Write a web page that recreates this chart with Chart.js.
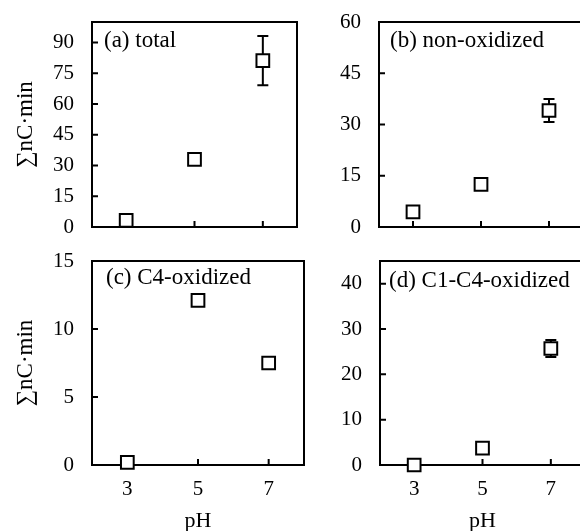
<!DOCTYPE html>
<html><head><meta charset="utf-8">
<script src="https://cdn.jsdelivr.net/npm/chart.js@4/dist/chart.umd.min.js"></script>
<style>
html,body{margin:0;padding:0;background:#fff;width:580px;height:531px;overflow:hidden;position:relative;}
canvas{position:absolute;}
</style></head><body>
<canvas id="ca" width="300" height="250" style="left:0px;top:0px"></canvas>
<canvas id="cb" width="300" height="250" style="left:290px;top:0px"></canvas>
<canvas id="cc" width="310" height="281" style="left:0px;top:250px"></canvas>
<canvas id="cd" width="300" height="281" style="left:290px;top:250px"></canvas>
<script>
// ---- data ----
const phValues = [3, 5, 7];
const xTickValues = [3, 5, 7];
const totalValues = [3.2, 33.0, 81.2];
const totalErrors = [0, 0, 12.0];
const nonOxidizedValues = [4.4, 12.5, 34.1];
const nonOxidizedErrors = [0, 0, 3.4];
const c4OxidizedValues = [0.2, 12.1, 7.5];
const c4OxidizedErrors = [0, 0, 0];
const c1c4OxidizedValues = [0, 3.7, 25.7];
const c1c4OxidizedErrors = [0, 0, 1.9];
const yTicksTotal = [0, 15, 30, 45, 60, 75, 90];
const yTicksNonOx = [0, 15, 30, 45, 60];
const yTicksC4 = [0, 5, 10, 15];
const yTicksC1C4 = [0, 10, 20, 30, 40];
const panelLabels = ['(a) total', '(b) non-oxidized', '(c) C4-oxidized', '(d) C1-C4-oxidized'];
const yTitle = '∑nC·min';
const xTitle = 'pH';

const FAMILY = '"Liberation Serif", "Times New Roman", serif';

function makePanel(id, cfg) {
  const framePlugin = {
    id: 'frame_' + id,
    beforeDatasetsDraw(chart) {
      const ctx = chart.ctx, a = chart.chartArea;
      const x = chart.scales.x, y = chart.scales.y;
      ctx.save();
      ctx.strokeStyle = '#000';
      ctx.lineWidth = 2;
      ctx.strokeRect(a.left, a.top, a.right - a.left, a.bottom - a.top);
      ctx.beginPath();
      x.ticks.forEach(t => { const px = x.getPixelForValue(t.value); ctx.moveTo(px, a.bottom); ctx.lineTo(px, a.bottom - 6); });
      y.ticks.forEach(t => { const py = y.getPixelForValue(t.value); ctx.moveTo(a.left, py); ctx.lineTo(a.left + 6, py); });
      ctx.stroke();
      // error bars
      ctx.beginPath();
      chart.data.datasets[0].data.forEach((p, i) => {
        const e = cfg.errors[i];
        if (!e) return;
        const px = x.getPixelForValue(p.x);
        const top = y.getPixelForValue(p.y + e), bot = y.getPixelForValue(p.y - e);
        ctx.moveTo(px, top); ctx.lineTo(px, bot);
        ctx.moveTo(px - 5.5, top); ctx.lineTo(px + 5.5, top);
        ctx.moveTo(px - 5.5, bot); ctx.lineTo(px + 5.5, bot);
      });
      ctx.stroke();
      ctx.fillStyle = '#000';
      ctx.font = '23px ' + FAMILY;
      ctx.textAlign = 'left';
      ctx.textBaseline = 'middle';
      ctx.fillText(cfg.label, a.left + cfg.dx, a.top + cfg.dy);
      ctx.restore();
    }
  };
  const zeroPad = s => { s.paddingTop = 0; s.paddingBottom = 0; s.paddingLeft = 0; s.paddingRight = 0; };
  return new Chart(document.getElementById(id), {
    type: 'scatter',
    data: {
      datasets: [{
        data: phValues.map((v, i) => ({ x: v, y: cfg.values[i] })),
        pointStyle: 'rect',
        pointRadius: 9,
        pointHoverRadius: 9,
        pointBackgroundColor: '#fff',
        pointBorderColor: '#000',
        pointBorderWidth: 2,
        showLine: false,
        clip: false
      }]
    },
    options: {
      responsive: false,
      animation: false,
      devicePixelRatio: 1,
      events: [],
      layout: { autoPadding: false, padding: { left: 0, right: cfg.padRight, top: cfg.padTop, bottom: 0 } },
      plugins: { legend: { display: false }, tooltip: { enabled: false } },
      scales: {
        x: {
          type: 'linear', min: 2, max: 8,
          afterBuildTicks: s => { s.ticks = xTickValues.map(v => ({ value: v })); },
          afterFit: s => { s.height = cfg.xH; zeroPad(s); },
          grid: { display: false, drawTicks: false },
          border: { display: false },
          ticks: { display: cfg.showX, padding: 12, color: '#000', font: { family: FAMILY, size: 21 } },
          title: { display: cfg.showX, text: xTitle, color: '#000', font: { family: FAMILY, size: 22 }, padding: { top: 0, bottom: -3 } }
        },
        y: {
          type: 'linear', min: 0, max: cfg.yMax,
          afterBuildTicks: s => { s.ticks = cfg.yTicks.map(v => ({ value: v })); },
          afterFit: s => { s.width = cfg.yW; zeroPad(s); },
          grid: { display: false, drawTicks: false },
          border: { display: false },
          ticks: { padding: 18, color: '#000', font: { family: FAMILY, size: 21 } },
          title: { display: cfg.showYTitle, text: yTitle, color: '#000', font: { family: FAMILY, size: 23 }, padding: { top: 12, bottom: 0 } }
        }
      }
    },
    plugins: [framePlugin]
  });
}

makePanel('ca', { values: totalValues, errors: totalErrors, yTicks: yTicksTotal, yMax: 100,
  label: panelLabels[0], dx: 12, dy: 19, yW: 92, xH: 23, padRight: 3, padTop: 22, showX: false, showYTitle: true });
makePanel('cb', { values: nonOxidizedValues, errors: nonOxidizedErrors, yTicks: yTicksNonOx, yMax: 60,
  label: panelLabels[1], dx: 11, dy: 19, yW: 89, xH: 23, padRight: 7, padTop: 22, showX: false, showYTitle: false });
makePanel('cc', { values: c4OxidizedValues, errors: c4OxidizedErrors, yTicks: yTicksC4, yMax: 15,
  label: panelLabels[2], dx: 14, dy: 17, yW: 92, xH: 66, padRight: 6, padTop: 11, showX: true, showYTitle: true });
makePanel('cd', { values: c1c4OxidizedValues, errors: c1c4OxidizedErrors, yTicks: yTicksC1C4, yMax: 45,
  label: panelLabels[3], dx: 9, dy: 20, yW: 90, xH: 66, padRight: 5, padTop: 11, showX: true, showYTitle: false });
</script>
</body></html>
